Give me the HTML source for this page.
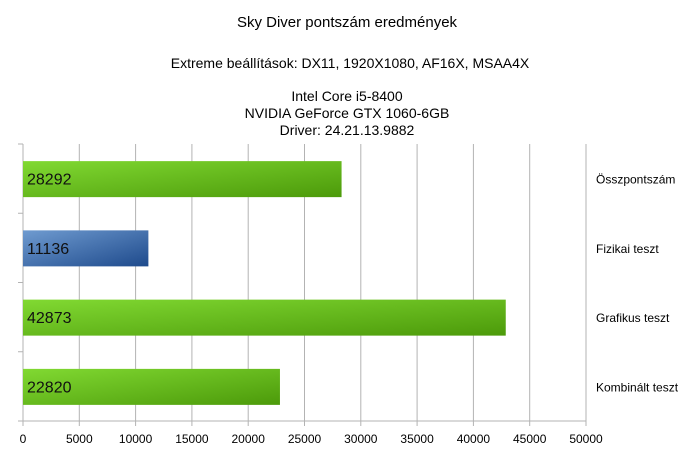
<!DOCTYPE html>
<html><head><meta charset="utf-8"><style>
body{margin:0;background:#fff;font-family:"Liberation Sans",sans-serif;}
svg text{font-family:"Liberation Sans",sans-serif;}
</style></head><body>
<svg width="694" height="470">
<defs>
<linearGradient id="g" x1="0" y1="0" x2="1" y2="1"><stop offset="0" stop-color="#81d932"/><stop offset="1" stop-color="#4c9a0a"/></linearGradient>
<linearGradient id="b" x1="0" y1="0" x2="1" y2="1"><stop offset="0" stop-color="#6f9bd0"/><stop offset="1" stop-color="#1e4a8c"/></linearGradient>
</defs>
<g font-size="14" text-anchor="middle" fill="#000">
<text x="347" y="27" font-size="15">Sky Diver pontszám eredmények</text>
<text x="350" y="68">Extreme beállítások: DX11, 1920X1080, AF16X, MSAA4X</text>
<text x="347" y="101">Intel Core i5-8400</text>
<text x="347" y="118">NVIDIA GeForce GTX 1060-6GB</text>
<text x="347" y="135">Driver: 24.21.13.9882</text>
</g>
<g id="plot"></g>
</svg>
<script>
const categories=["Összpontszám","Fizikai teszt","Grafikus teszt","Kombinált teszt"];
const values=[28292,11136,42873,22820];
const fills=["url(#g)","url(#b)","url(#g)","url(#g)"];
const ticks=[0,5000,10000,15000,20000,25000,30000,35000,40000,45000,50000];
const X0=23,X1=586,Y0=144,Y1=421,MAX=50000;
const xs=v=>X0+(X1-X0)*v/MAX;
const band=(Y1-Y0)/categories.length;
const g=document.getElementById('plot');
const NS="http://www.w3.org/2000/svg";
function mk(t,a){const e=document.createElementNS(NS,t);for(const k in a)e.setAttribute(k,a[k]);g.appendChild(e);return e;}
ticks.forEach(t=>{
 const l=mk('line',{x1:xs(t),x2:xs(t),y1:Y0,y2:Y1+5,stroke:'#b3b3b3'});
 
 
 const tx=mk('text',{x:xs(t),y:443,'font-size':12,'text-anchor':'middle',fill:'#000'});
 tx.textContent=t;
 
 
});
for(let i=0;i<=categories.length;i++){
 const l=mk('line',{x1:18,x2:X0,y1:Y0+band*i,y2:Y0+band*i,stroke:'#b3b3b3'});
 
 
}
const ax=mk('line',{x1:X0,x2:X0,y1:Y0,y2:Y1,stroke:'#b3b3b3'});


const bx=mk('line',{x1:18,x2:X1,y1:Y1,y2:Y1,stroke:'#b3b3b3'});


categories.forEach((c,i)=>{
 const cy=Y0+band*(i+0.5);
 const r=mk('rect',{x:X0,y:cy-17.5,width:xs(values[i])-X0,height:36,fill:fills[i]});
 
 
 const v=mk('text',{x:27,y:cy+6,'font-size':16,fill:'#111'});
 v.textContent=values[i];
 
 
 const lb=mk('text',{x:596,y:cy+5,'font-size':12,fill:'#000'});
 lb.textContent=c;
 
 
});
</script>
</body></html>
